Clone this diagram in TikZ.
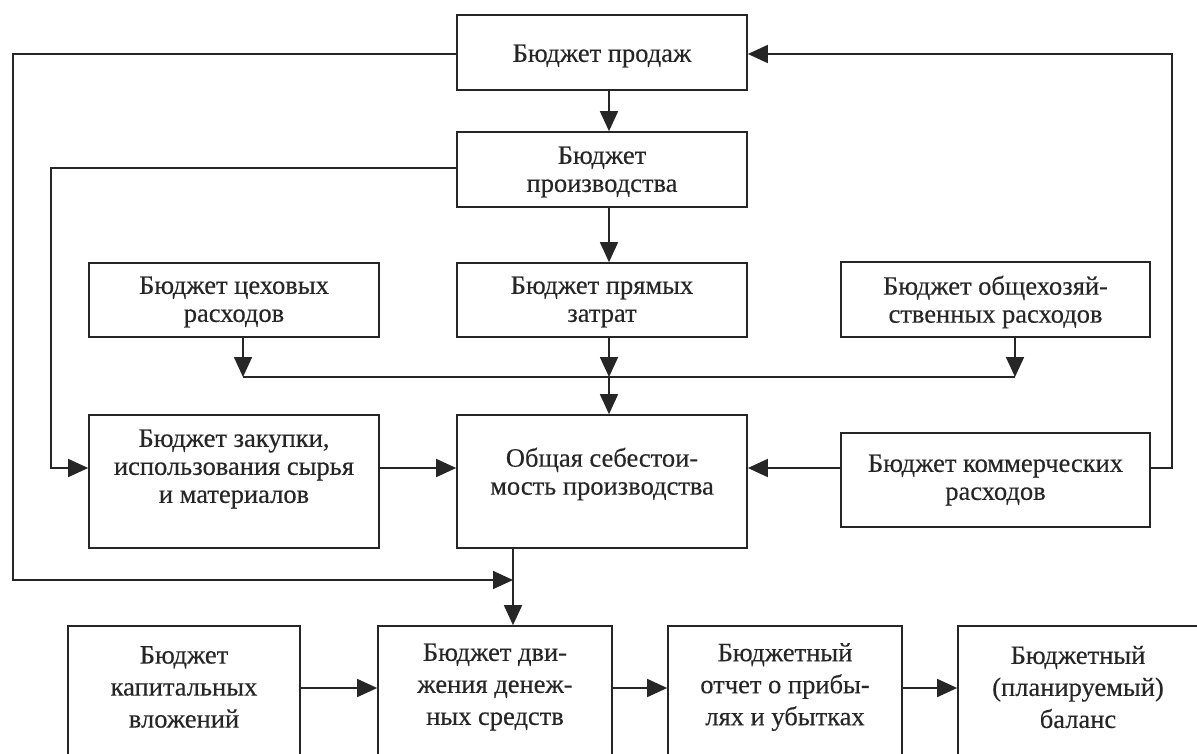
\documentclass[tikz,border=0pt]{standalone}
\usepackage{fontspec}
\setmainfont{Liberation Serif}[FakeBold=0.3]
\usetikzlibrary{arrows.meta}
\definecolor{ink}{RGB}{38,38,38}
\begin{document}
\begin{tikzpicture}[x=1pt,y=-1pt,
  box/.style={draw=ink, line width=1.7pt, rectangle, inner sep=0pt},
  txt/.style={text=ink, align=center, font=\fontsize{26.5}{28}\selectfont, inner sep=0pt},
  btxt/.style={txt, font=\fontsize{26.5}{32}\selectfont},
  conn/.style={draw=ink, line width=1.7pt},
  arr/.style={conn, -{Triangle[length=20pt,width=18pt]}}
]
\useasboundingbox (0,0) rectangle (1197,753);
\fill[white] (0,0) rectangle (1197,753);
\begin{scope}
\clip (0,0) rectangle (1197,753);
% boxes
\node[box, minimum width=290pt, minimum height=75pt] (b1) at (602,52.5) {};
\node[box, minimum width=290pt, minimum height=75pt] (b2) at (602,169.5) {};
\node[box, minimum width=290pt, minimum height=74pt] (b3) at (234,300) {};
\node[box, minimum width=290pt, minimum height=74pt] (b4) at (602,300) {};
\node[box, minimum width=309pt, minimum height=75pt] (b5) at (995.5,299.5) {};
\node[box, minimum width=290pt, minimum height=133pt] (b6) at (234,481.5) {};
\node[box, minimum width=290pt, minimum height=133pt] (b7) at (602,481.5) {};
\node[box, minimum width=309pt, minimum height=94pt] (b8) at (995.5,480) {};
\node[box, minimum width=232pt, minimum height=204pt] (b9) at (184,728) {};
\node[box, minimum width=234pt, minimum height=204pt] (b10) at (495,728) {};
\node[box, minimum width=234pt, minimum height=204pt] (b11) at (785,728) {};
\node[box, minimum width=240pt, minimum height=204pt] (b12) at (1078,728) {};
% texts
\node[txt] (t1) at (602,56) {Бюджет продаж};
\node[txt] (t2) at (602,172) {Бюджет\\производства};
\node[txt] (t3) at (234,302) {Бюджет цеховых\\расходов};
\node[txt] (t4) at (602,302) {Бюджет прямых\\затрат};
\node[txt] (t5) at (995.5,302) {Бюджет общехозяй-\\ственных расходов};
\node[txt] (t6) at (234,469) {Бюджет закупки,\\использования сырья\\и материалов};
\node[txt] (t7) at (602,474) {Общая себестои-\\мость производства};
\node[txt] (t8) at (995.5,480) {Бюджет коммерческих\\расходов};
\node[btxt] (t9) at (184,687) {Бюджет\\капитальных\\вложений};
\node[btxt] (t10) at (495,687) {Бюджет дви-\\жения денеж-\\ных средств};
\node[btxt] (t11) at (785,687) {Бюджетный\\отчет о прибы-\\лях и убытках};
\node[btxt] (t12) at (1078,687) {Бюджетный\\(планируемый)\\баланс};
% helper coordinates
\coordinate (cx) at (609,0);
\coordinate (xl) at (13,0);
\coordinate (xl2) at (51,0);
\coordinate (xr) at (1172,0);
\coordinate (x3) at (243,0);
\coordinate (x5) at (1015,0);
\coordinate (xo) at (513,0);
\coordinate (bus) at (0,377);
\coordinate (yl) at (0,580);
\coordinate (y1) at (0,54);
\coordinate (y2) at (0,168);
\coordinate (ym) at (0,468);
\coordinate (yb) at (0,688);
% connectors
\draw[arr] (b1.south -| cx) -- (b2.north -| cx);
\draw[arr] (b2.south -| cx) -- (b4.north -| cx);
\draw[arr] (b4.south -| cx) -- (bus -| cx);
\draw[arr] (bus -| cx) -- (b7.north -| cx);
\draw[arr] (b3.south -| x3) -- (bus -| x3);
\draw[arr] (b5.south -| x5) -- (bus -| x5);
\draw[conn] (bus -| x3) -- (bus -| x5);
\draw[arr] (b1.west |- y1) -- (xl |- y1) -- (xl |- yl) -- (xo |- yl);
\draw[arr] (b2.west |- y2) -- (xl2 |- y2) -- (xl2 |- ym) -- (b6.west |- ym);
\draw[arr] (b6.east |- ym) -- (b7.west |- ym);
\draw[arr] (b8.west |- ym) -- (b7.east |- ym);
\draw[arr] (b8.east |- ym) -- (xr |- ym) -- (xr |- y1) -- (b1.east |- y1);
\draw[arr] (b7.south -| xo) -- (b10.north -| xo);
\draw[arr] (b9.east |- yb) -- (b10.west |- yb);
\draw[arr] (b10.east |- yb) -- (b11.west |- yb);
\draw[arr] (b11.east |- yb) -- (b12.west |- yb);
\end{scope}
\end{tikzpicture}
\end{document}
